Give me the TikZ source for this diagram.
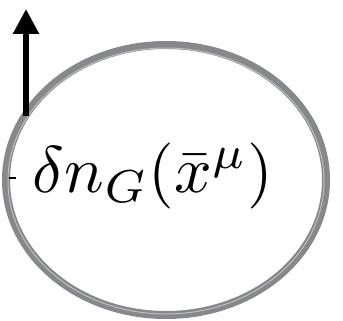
\documentclass[tikz,border=0pt]{standalone}
\usetikzlibrary{arrows.meta}
\begin{document}
\begin{tikzpicture}[x=1pt,y=-1pt,
  arrowline/.style={line width=5.5pt,-{Triangle[width=25pt,length=25pt]}}]
\useasboundingbox (0,0) rectangle (343,321);
\definecolor{brushgray}{RGB}{134,136,139}
\draw[draw=brushgray, line width=8pt] (166,180) ellipse [x radius=160, y radius=135];
\draw[draw=brushgray!55, line width=1pt] (166,181) ellipse [x radius=158, y radius=133];
\node[inner sep=0pt, scale=6.6] (label) at (153,176) {$\delta n_G(\bar{x}^\mu)$};
\coordinate (tail) at (26,116);
\coordinate (tip) at (26,9);
\draw[arrowline] (tail) -- (tip);
\coordinate (t1) at (9,178);
\coordinate (t2) at (16,178);
\draw[line width=1.6pt] (t1) -- (t2);
\end{tikzpicture}
\end{document}
